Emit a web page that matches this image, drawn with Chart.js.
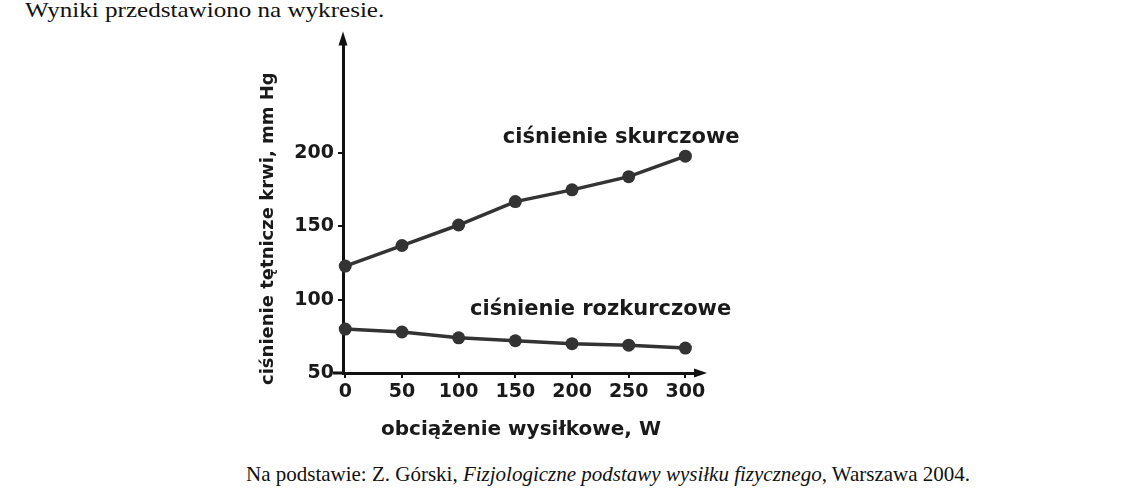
<!DOCTYPE html>
<html>
<head>
<meta charset="utf-8">
<script src="https://cdn.jsdelivr.net/npm/chart.js@4.4.1/dist/chart.umd.min.js"></script>
<style>
  body { margin: 0; background: #fff; width: 1146px; height: 495px; position: relative; overflow: hidden; }
  .serif { font-family: "Liberation Serif", "Times New Roman", serif; color: #111; position: absolute; white-space: nowrap; line-height: 1; }
  #intro { left: 25px; top: -1px; font-size: 22px; transform: scaleX(1.14); transform-origin: left top; }
  #source { left: 0; width: 1216px; top: 464px; font-size: 21px; text-align: center; }
  #wrap { position: absolute; left: 231px; top: 25px; width: 530px; height: 425px; }
</style>
</head>
<body>
<div id="intro" class="serif">Wyniki przedstawiono na wykresie.</div>
<div id="wrap"><canvas id="chart"></canvas></div>
<div id="source" class="serif">Na podstawie: Z. Górski, <i>Fizjologiczne podstawy wysiłku fizycznego</i>, Warszawa 2004.</div>
<script>
// obciążenie wysiłkowe, W
const loads = [0, 50, 100, 150, 200, 250, 300];
// ciśnienie tętnicze krwi, mm Hg
const systolic = [123, 137, 151, 167, 175, 184, 198];
const diastolic = [80, 78, 74, 72, 70, 69, 67];
const xTicks = [0, 50, 100, 150, 200, 250, 300];
const yTicks = [50, 100, 150, 200];
const seriesNames = ['ciśnienie skurczowe', 'ciśnienie rozkurczowe'];
// where each series name is written (data coords of the text's left / middle)
const nameAnchors = [[139, 211], [110, 93]];

const ink = '#333';
const sans = '"DejaVu Sans", Verdana, sans-serif';

const arrows = {
  id: 'arrows',
  afterDraw(chart) {
    const { ctx, chartArea: a } = chart;
    ctx.save();
    ctx.fillStyle = '#111';
    ctx.strokeStyle = '#111';
    ctx.lineWidth = 3;
    // x axis sticks out a little left of the y axis
    ctx.beginPath();
    ctx.moveTo(a.left - 10, a.bottom);
    ctx.lineTo(a.left, a.bottom);
    ctx.stroke();
    // y arrow
    ctx.beginPath();
    ctx.moveTo(a.left, a.top - 9);
    ctx.lineTo(a.left - 4.5, a.top + 5);
    ctx.lineTo(a.left + 4.5, a.top + 5);
    ctx.closePath();
    ctx.fill();
    // x arrow
    ctx.beginPath();
    ctx.moveTo(a.right + 8, a.bottom);
    ctx.lineTo(a.right - 5, a.bottom - 4.5);
    ctx.lineTo(a.right - 5, a.bottom + 4.5);
    ctx.closePath();
    ctx.fill();
    ctx.restore();
  }
};

const seriesLabels = {
  id: 'seriesLabels',
  afterDatasetsDraw(chart) {
    const { ctx, scales } = chart;
    ctx.save();
    ctx.fillStyle = '#1a1a1a';
    ctx.font = 'bold 21px ' + sans;
    ctx.textBaseline = 'middle';
    ctx.textAlign = 'left';
    seriesNames.forEach((name, i) => {
      const [vx, vy] = nameAnchors[i];
      ctx.fillText(name, scales.x.getPixelForValue(vx), scales.y.getPixelForValue(vy));
    });
    ctx.restore();
  }
};

const toPoints = (vals) => vals.map((v, i) => ({ x: loads[i], y: v }));

new Chart(document.getElementById('chart'), {
  type: 'line',
  data: {
    datasets: [
      { label: seriesNames[0], data: toPoints(systolic) },
      { label: seriesNames[1], data: toPoints(diastolic) }
    ].map(d => Object.assign(d, {
      borderColor: ink,
      backgroundColor: ink,
      borderWidth: 3.5,
      pointRadius: 6.5,
      pointHoverRadius: 6.5,
      pointBorderWidth: 0,
      tension: 0,
      clip: false
    }))
  },
  options: {
    responsive: true,
    maintainAspectRatio: false,
    animation: false,
    events: [],
    layout: { padding: { left: 0, right: 62, top: 15, bottom: 0 } },
    plugins: { legend: { display: false }, tooltip: { enabled: false } },
    scales: {
      x: {
        type: 'linear',
        min: -2,
        max: 312,
        afterBuildTicks: (s) => { s.ticks = xTicks.map(v => ({ value: v })); },
        afterFit: (s) => { s.height = 77; },
        grid: { display: true, drawOnChartArea: false, drawTicks: true, tickLength: 5, color: '#111', lineWidth: 2 },
        border: { display: true, color: '#111', width: 3 },
        ticks: { color: '#1a1a1a', font: { family: sans, size: 19, weight: 'bold' }, padding: 3, maxRotation: 0 },
        title: {
          display: true,
          text: 'obciążenie wysiłkowe, W',
          color: '#1a1a1a',
          font: { family: sans, size: 20, weight: 'bold' },
          padding: { top: 0, bottom: 8 }
        }
      },
      y: {
        min: 50,
        max: 277,
        afterBuildTicks: (s) => { s.ticks = yTicks.map(v => ({ value: v })); },
        afterFit: (s) => { s.width = 112; },
        grid: { display: true, drawOnChartArea: false, drawTicks: true, tickLength: 5, color: '#111', lineWidth: 2 },
        border: { display: true, color: '#111', width: 3 },
        ticks: { color: '#1a1a1a', font: { family: sans, size: 19, weight: 'bold' }, padding: 4 },
        title: {
          display: true,
          // trailing spaces push the visible text a bit lower, as in the source figure
          text: 'ciśnienie tętnicze krwi, mm Hg       ',
          color: '#1a1a1a',
          font: { family: sans, size: 18, weight: 'bold' },
          padding: { top: 27, bottom: 0 }
        }
      }
    }
  },
  plugins: [arrows, seriesLabels]
});
</script>
</body>
</html>
